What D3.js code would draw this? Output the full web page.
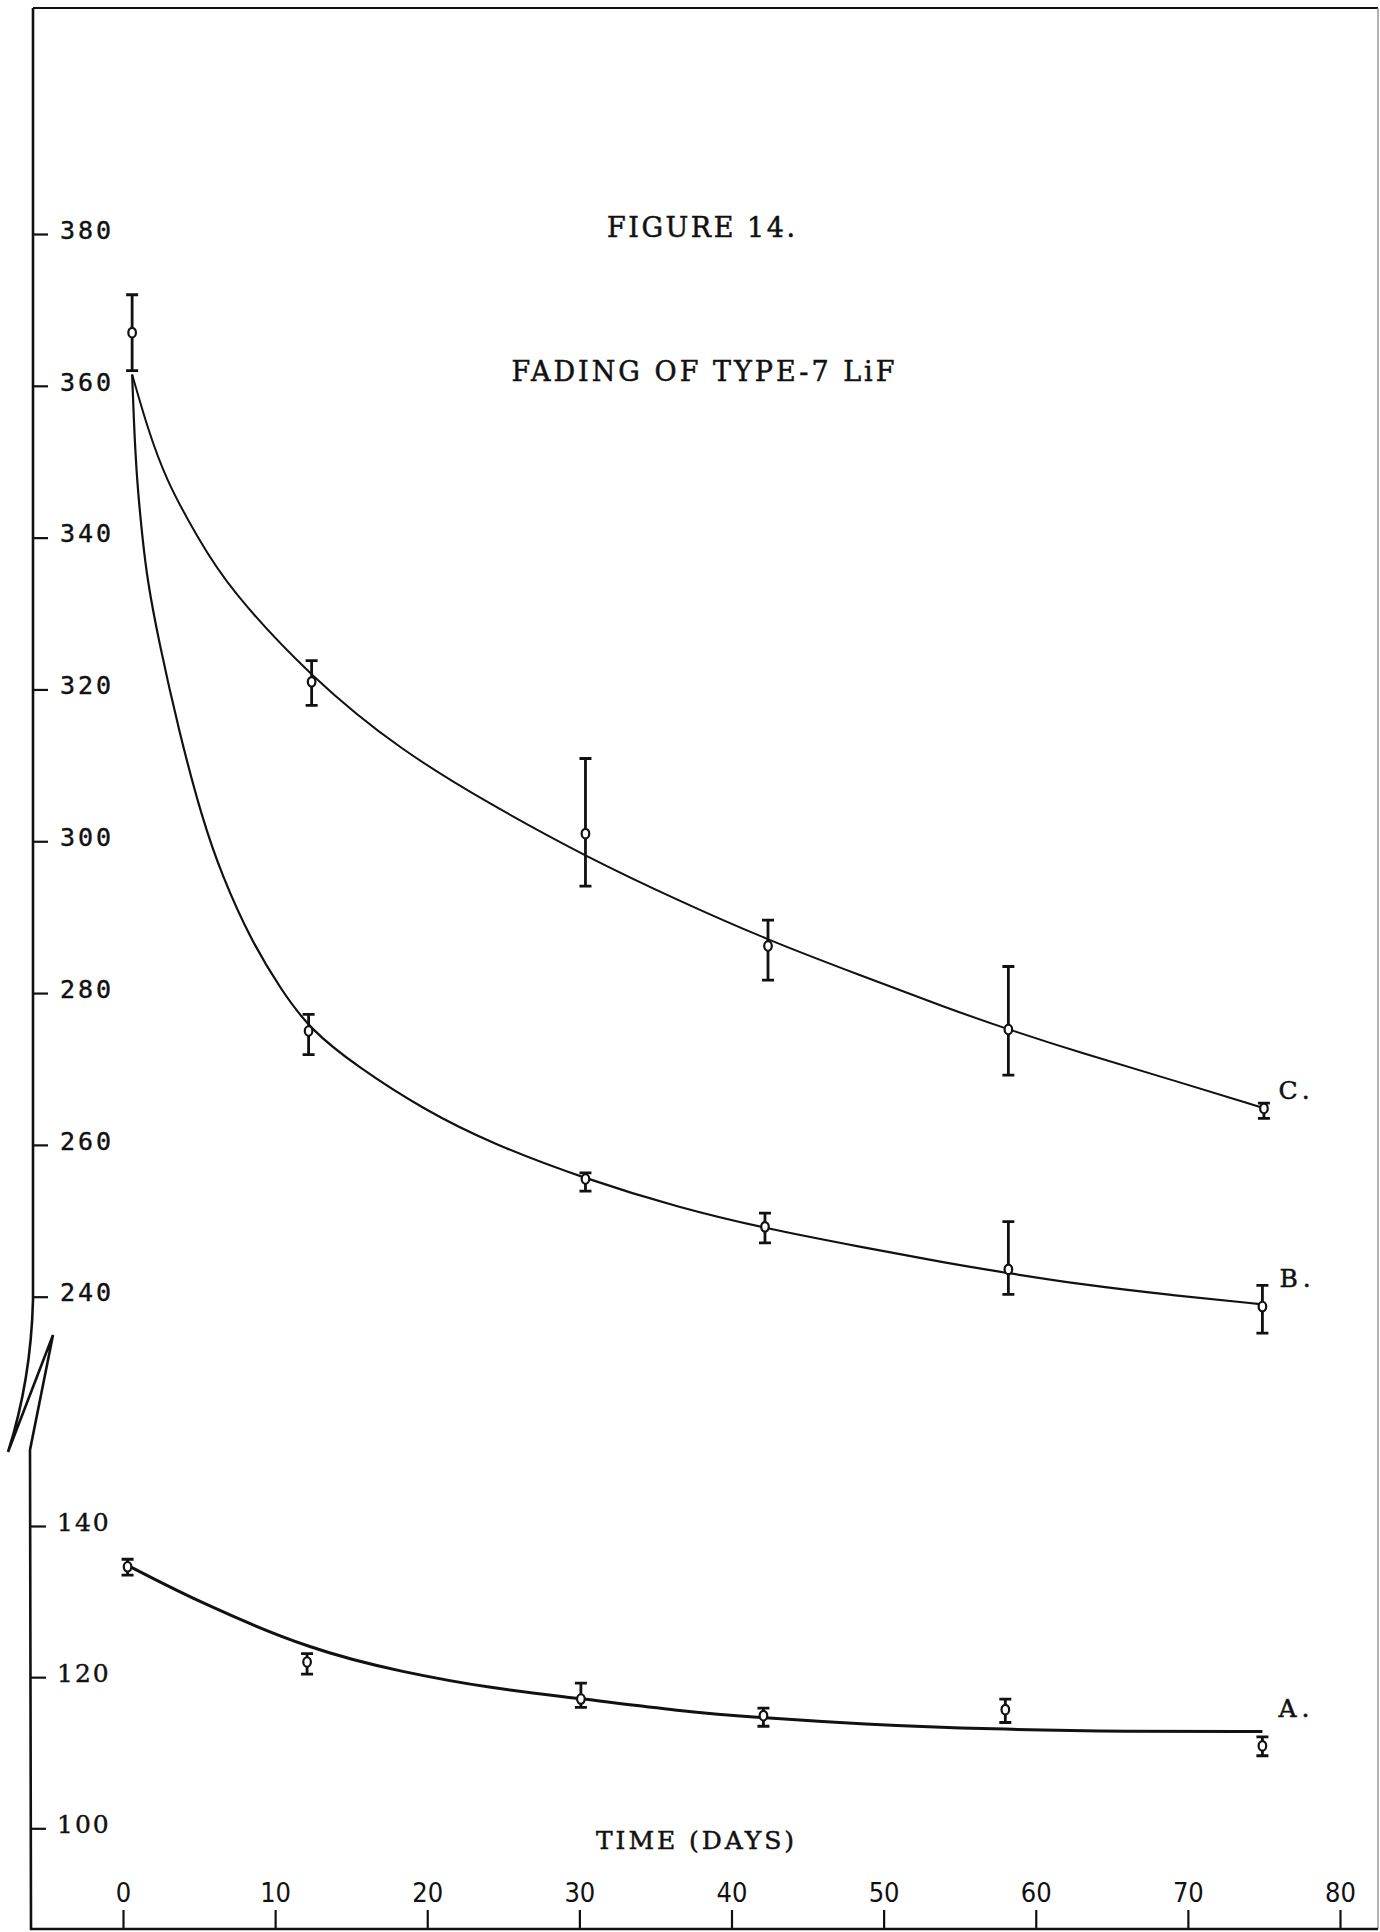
<!DOCTYPE html>
<html>
<head>
<meta charset="utf-8">
<script src="https://cdn.jsdelivr.net/npm/d3@7"></script>
<style>
  body { margin: 0; background: #fff; }
  svg { display: block; }
  .typed { font-family: "DejaVu Serif", serif; fill: #111; stroke: #111; stroke-width: 0.5px; }
  .yup text { font-family: "DejaVu Sans Mono", monospace; font-size: 25px; letter-spacing: 3px; fill: #111; stroke: #111; stroke-width: 0.4px; }
  .ylow text { font-family: "DejaVu Serif", serif; font-size: 25px; letter-spacing: 2px; fill: #111; stroke: #111; stroke-width: 0.4px; }
  .xax text { font-family: "DejaVu Sans Condensed", "DejaVu Sans", sans-serif; font-stretch: condensed; font-size: 27px; fill: #111; }
</style>
</head>
<body>
<script>
// values (TL reading vs days)
const startDay = 0.6;
const startValue = 367;
const startLow = 362;
const startHigh = 372;

const daysA = [0.3, 12.1, 30.1, 42.1, 58.0, 74.9];
const valuesA = [134.6, 122.0, 117.1, 114.9, 115.7, 110.9];
const lowA = [133.5, 120.4, 116.0, 113.5, 114.0, 109.6];
const highA = [135.6, 123.1, 119.2, 115.9, 117.1, 112.1];

const daysB = [12.2, 30.4, 42.2, 58.2, 74.9];
const valuesB = [275.0, 255.5, 249.2, 243.6, 238.7];
const lowB = [271.9, 253.9, 247.1, 240.3, 235.2];
const highB = [277.2, 256.3, 251.0, 249.9, 241.5];

const daysC = [12.4, 30.4, 42.4, 58.2, 75.0];
const valuesC = [321.0, 301.0, 286.2, 275.2, 264.8];
const lowC = [317.9, 294.1, 281.7, 269.2, 263.5];
const highC = [323.8, 310.9, 289.6, 283.5, 265.5];

// the drawn curves, read at points along each line
const fitDaysA = [0.3, 5.1, 12.5, 18.3, 24.2, 30.0, 36.6, 42.1, 48.4, 57.2, 66.0, 74.9];
const fitA = [134.8, 129.8, 123.5, 120.7, 118.5, 117.2, 115.5, 114.6, 113.8, 113.1, 112.8, 112.8];

const fitDaysB = [0.6, 0.7, 0.9, 1.3, 1.6, 2.3, 3.7, 5.2, 6.5, 8.4, 10.4, 12.3, 15.4, 19.8, 24.2, 30.4, 36.6, 42.2, 48.4, 54.2, 58.2, 63.0, 68.9, 74.9];
const fitB = [361.5, 356.0, 347.7, 339.5, 334.5, 326.8, 314.3, 303.0, 295.5, 287.0, 280.4, 275.2, 270.3, 264.6, 260.2, 255.5, 251.7, 249.0, 246.6, 244.4, 243.1, 241.6, 240.2, 239.0];

const fitDaysC = [0.6, 1.6, 2.8, 4.9, 7.0, 12.4, 18.3, 24.2, 30.4, 36.6, 42.5, 48.4, 54.2, 58.2, 63.0, 68.9, 74.9];
const fitC = [361.5, 354.5, 347.7, 340.0, 333.2, 321.5, 311.9, 304.8, 298.0, 292.1, 286.9, 282.4, 278.0, 275.2, 272.1, 268.6, 264.9];

const upperTicks = [240, 260, 280, 300, 320, 340, 360, 380];
const lowerTicks = [100, 120, 140];
const xTicks = [0, 10, 20, 30, 40, 50, 60, 70, 80];

const W = 1380, H = 1932;

const x = d3.scaleLinear().domain([0, 80]).range([123, 1340]);
const yUp = d3.scaleLinear().domain([240, 380]).range([1296.7, 234]);
const yLow = d3.scaleLinear().domain([100, 140]).range([1828.3, 1526]);

const svg = d3.select("body").append("svg")
    .attr("width", W)
    .attr("height", H);

// frame, left axis with break
svg.append("path")
    .attr("d", "M33,8 H1378")
    .attr("stroke", "#111").attr("stroke-width", 2).attr("fill", "none");
svg.append("path")
    .attr("d", "M1378,8 V1929")
    .attr("stroke", "#999").attr("stroke-width", 1.5).attr("fill", "none");
svg.append("path")
    .attr("d", "M33,8 L33,1300 Q31,1380 8,1452 L53,1335 L30,1450 L31,1929 L1378,1929")
    .attr("stroke", "#111").attr("stroke-width", 2.6).attr("fill", "none")
    .attr("stroke-linejoin", "miter");

// axes
const upAxis = svg.append("g")
    .attr("class", "yup")
    .attr("transform", "translate(33,0)")
    .call(d3.axisRight(yUp).tickValues(upperTicks).tickSize(15).tickPadding(12));

const lowAxis = svg.append("g")
    .attr("class", "ylow")
    .attr("transform", "translate(31,0)")
    .call(d3.axisRight(yLow).tickValues(lowerTicks).tickSize(15).tickPadding(11));

const xAxis = svg.append("g")
    .attr("class", "xax")
    .attr("transform", "translate(0,1929)")
    .call(d3.axisTop(x).tickValues(xTicks).tickSize(19).tickPadding(8));

[upAxis, lowAxis, xAxis].forEach((g) => {
    g.select(".domain").remove();
    g.selectAll(".tick line").attr("stroke", "#111").attr("stroke-width", 2.2);
});
upAxis.selectAll("text").attr("dy", "0.17em");
lowAxis.selectAll("text").attr("dy", "0.17em");

// titles, typed in the original
function typed(str, cx, y, size, len) {
    svg.append("text").attr("class", "typed")
        .attr("x", cx - len / 2).attr("y", y)
        .attr("font-size", size)
        .attr("textLength", len).attr("lengthAdjust", "spacing")
        .text(str);
}
typed("FIGURE 14.", 701, 237, 27, 188);
typed("FADING OF TYPE-7 LiF", 703, 381, 27, 383);
typed("TIME (DAYS)", 695, 1849, 25, 198);

// fitted curves
const fit = (days, vals) => days.map((d, i) => ({ day: d, value: vals[i] }));
const lineUp = d3.line().x((d) => x(d.day)).y((d) => yUp(d.value)).curve(d3.curveBasis);
const lineLow = d3.line().x((d) => x(d.day)).y((d) => yLow(d.value)).curve(d3.curveBasis);

svg.append("path").attr("d", lineUp(fit(fitDaysC, fitC)))
    .attr("fill", "none").attr("stroke", "#111").attr("stroke-width", 2);
svg.append("path").attr("d", lineUp(fit(fitDaysB, fitB)))
    .attr("fill", "none").attr("stroke", "#111").attr("stroke-width", 2.2);
svg.append("path").attr("d", lineLow(fit(fitDaysA, fitA)))
    .attr("fill", "none").attr("stroke", "#111").attr("stroke-width", 3);

// error bars and points
const pts = (days, vals, lo, hi) =>
    days.map((d, i) => ({ day: d, value: vals[i], low: lo[i], high: hi[i] }));

const upperPts = [{ day: startDay, value: startValue, low: startLow, high: startHigh }]
    .concat(pts(daysB, valuesB, lowB, highB), pts(daysC, valuesC, lowC, highC));
const lowerPts = pts(daysA, valuesA, lowA, highA);

function drawPoints(data, y) {
    const g = svg.append("g");
    const cap = 6;
    g.selectAll("path.bar").data(data).enter().append("path")
        .attr("class", "bar")
        .attr("d", (d) => {
            const cx = x(d.day), t = y(d.high), b = y(d.low);
            return `M${cx},${t} V${b} M${cx - cap},${t} H${cx + cap} M${cx - cap},${b} H${cx + cap}`;
        })
        .attr("fill", "none").attr("stroke", "#111").attr("stroke-width", 2.8);
    g.selectAll("ellipse").data(data).enter().append("ellipse")
        .attr("cx", (d) => x(d.day))
        .attr("cy", (d) => y(d.value))
        .attr("rx", 3.8).attr("ry", 4.8)
        .attr("fill", "#fff").attr("stroke", "#111").attr("stroke-width", 2.2);
}
drawPoints(upperPts, yUp);
drawPoints(lowerPts, yLow);

// curve labels
const lastC = fitC.length - 1, lastB = fitB.length - 1, lastA = fitA.length - 1;
function curveLabel(str, px, py) {
    svg.append("text").attr("class", "typed").attr("font-size", 25)
        .attr("letter-spacing", 5)
        .attr("x", px).attr("y", py).text(str);
}
curveLabel("C.", x(fitDaysC[lastC]) + 16, yUp(fitC[lastC]) - 9);
curveLabel("B.", x(fitDaysB[lastB]) + 17, yUp(fitB[lastB]) - 17);
curveLabel("A.", x(fitDaysA[lastA]) + 16, yLow(fitA[lastA]) - 15);
</script>
</body>
</html>
